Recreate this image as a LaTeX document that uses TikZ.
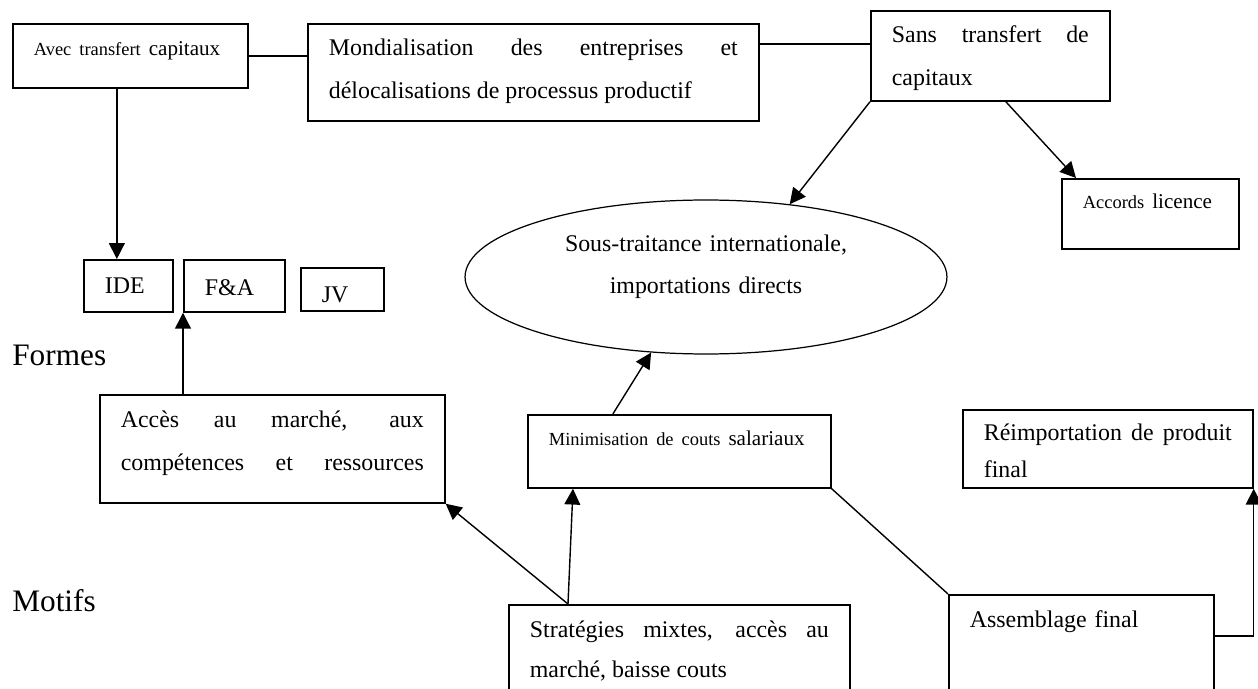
\documentclass[tikz,border=0pt]{standalone}
\usepackage{fontspec}
\setmainfont{Liberation Serif}
\usetikzlibrary{arrows.meta,shapes.geometric}
\hyphenpenalty=10000
\exhyphenpenalty=10000
\tolerance=10000

\newcommand{\petit}{\fontsize{10.5}{24}\selectfont}
\newcommand{\moyen}{\fontsize{12}{24}\selectfont}

\tikzset{
    boite/.style={draw, line width=1pt, anchor=north west, inner xsep=0.42cm, inner ysep=0pt, font=\fontsize{13.6}{24}\selectfont},
    just/.style={boite, align=justify},
    gauche/.style={boite, align=left},
    fleche/.style={line width=0.8pt, -{Triangle[length=9pt,width=9pt]}},
    trait/.style={line width=0.8pt},
    titre/.style={anchor=base west, inner sep=0pt, font=\fontsize{17.8}{20}\selectfont}
}

\begin{document}
\begin{tikzpicture}[x=0.02cm, y=-0.02cm]
        \useasboundingbox (0,0) rectangle (1258,689);

        % ligne du haut
        \node[gauche, text width=3.86cm, text height=0.64cm, text depth=0.64cm] (avec) at (12,23) {\mbox{\petit Avec transfert \moyen capitaux}};
        \node[just, text width=8.18cm, text height=0.64cm, text depth=1.3cm] (mond) at (307,23) {Mondialisation des entreprises et\linebreak délocalisations de processus productif};
        \node[just, text width=3.94cm, text height=0.64cm, text depth=1.16cm] (sans) at (870,10) {Sans transfert de\linebreak capitaux};
        \node[gauche, text width=2.7cm, text height=0.6cm, text depth=0.8cm] (accords) at (1061,178) {\mbox{\petit Accords \moyen licence}};

        % formes
        \node[gauche, text width=0.94cm, text height=0.68cm, text depth=0.36cm] (ide) at (83,259) {IDE};
        \node[gauche, text width=1.18cm, text height=0.72cm, text depth=0.32cm] (fa) at (183,259) {F\&A};
        \node[gauche, text width=0.82cm, text height=0.7cm, text depth=0.16cm] (jv) at (300,267) {JV};
        \node[draw, ellipse, line width=0.7pt, minimum width=9.64cm, minimum height=3.08cm, inner sep=0pt] (sst) at (706,277) {};
        \node[align=center, text width=7cm, inner sep=0pt, font=\fontsize{13.6}{24}\selectfont] (ssttxt) at (706,267) {Sous-traitance internationale,\\ importations directs};

        \node[titre] (formes) at (12,365) {Formes};
        \node[titre] (motifs) at (12,611) {Motifs};

        % motifs
        \node[just, text width=6.06cm, text height=0.66cm, text depth=1.5cm] (acces) at (99,394) {Accès au marché, aux\linebreak compétences\hfill et\hfill ressources};
        \node[gauche, text width=5.22cm, text height=0.62cm, text depth=0.84cm] (minim) at (527,414) {\mbox{\petit Minimisation de couts \moyen salariaux}};
        \node[just, text width=4.96cm, text height=0.62cm, text depth=0.94cm, font=\fontsize{13.6}{21}\selectfont] (reimp) at (962,409) {Réimportation de produit\linebreak final};
        \node[just, text width=5.98cm, text height=0.66cm, text depth=2cm, font=\fontsize{13.6}{22.7}\selectfont] (strat) at (508,604) {Stratégies mixtes, accès au\linebreak marché, baisse couts};
        \node[gauche, text width=4.46cm, text height=0.66cm, text depth=2cm] (assem) at (948,594) {Assemblage final};

        % liaisons
        \draw[trait] (avec.east) -- (avec.east -| mond.west);
        \draw[trait] ([yshift=0.24cm]sans.west) -- ([yshift=0.24cm]sans.west -| mond.east);
        \draw[fleche] ([xshift=-0.27cm]avec.south) -- ([xshift=-0.27cm]avec.south |- ide.north);
        \draw[fleche] (sans.south west) -- (sst.41);
        \draw[fleche] ([xshift=0.31cm]sans.south) -- ([xshift=0.3cm]accords.north west);
        \draw[fleche] ([xshift=-1.33cm]minim.north) -- (sst.234);
        \draw[fleche] (acces.north -| fa.south west) -- (fa.south west);
        \draw[fleche] ([xshift=1.2cm]strat.north west) -- (acces.south east);
        \draw[fleche] ([xshift=1.2cm]strat.north west) -- ([xshift=0.92cm]minim.south west);
        \draw[trait] (minim.south east) -- (assem.north west);
        \draw[fleche] ([yshift=-0.84cm]assem.north east) -| (reimp.south east);
\end{tikzpicture}
\end{document}
